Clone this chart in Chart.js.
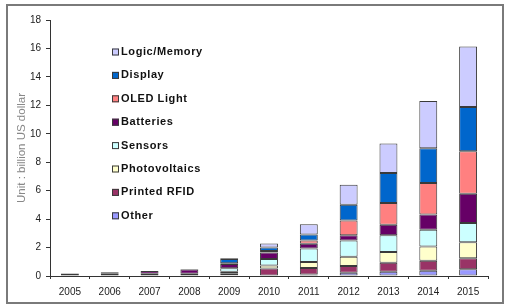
<!DOCTYPE html>
<html>
<head>
<meta charset="UTF-8">
<title>Printed electronics market</title>
<script src="https://cdn.jsdelivr.net/npm/chart.js@4/dist/chart.umd.min.js"></script>
<style>
  html, body { margin: 0; padding: 0; background: #fff; }
  #wrap { width: 507px; height: 308px; position: relative; }
</style>
</head>
<body>
<div id="wrap"><canvas id="myChart" width="507" height="308"></canvas></div>
<script type="text/javascript">
    // categories
    var years = ["2005", "2006", "2007", "2008", "2009", "2010", "2011", "2012", "2013", "2014", "2015"];

    // series values, billion US dollar
    var other         = [0,    0,    0,    0,    0.05, 0.03, 0.1,  0.23, 0.3,  0.37, 0.47];
    var printedRfid   = [0,    0,    0,    0,    0.1,  0.5,  0.47, 0.48, 0.64, 0.71, 0.78];
    var photovoltaics = [0,    0,    0,    0,    0.15, 0.2,  0.42, 0.65, 0.75, 0.99, 1.13];
    var sensors       = [0.18, 0.16, 0.15, 0.15, 0.25, 0.47, 0.94, 1.13, 1.18, 1.18, 1.34];
    var batteries     = [0,    0.1,  0.2,  0.3,  0.3,  0.45, 0.33, 0.38, 0.73, 1.08, 2.07];
    var oledLight     = [0,    0,    0,    0,    0.05, 0.1,  0.24, 1.03, 1.53, 2.21, 2.98];
    var display       = [0,    0,    0,    0.04, 0.3,  0.25, 0.42, 1.11, 2.12, 2.44, 3.11];
    var logicMemory   = [0,    0,    0,    0,    0.05, 0.28, 0.71, 1.41, 2.07, 3.32, 4.26];

    var yTicks = [0, 2, 4, 6, 8, 10, 12, 14, 16, 18];

    // bottom of the stack first
    var seriesList = [
        { label: "Other",         data: other,         color: "#9999FF" },
        { label: "Printed RFID",  data: printedRfid,   color: "#993366" },
        { label: "Photovoltaics", data: photovoltaics, color: "#FFFFCC" },
        { label: "Sensors",       data: sensors,       color: "#CCFFFF" },
        { label: "Batteries",     data: batteries,     color: "#660066" },
        { label: "OLED Light",    data: oledLight,     color: "#FF8080" },
        { label: "Display",       data: display,       color: "#0066CC" },
        { label: "Logic/Memory",  data: logicMemory,   color: "#CCCCFF" }
    ];

    var datasets = seriesList.map(function (s) {
        return {
            label: s.label,
            data: s.data,
            backgroundColor: s.color,
            borderColor: "#3a3a3a",
            borderWidth: 1,
            borderSkipped: false,
            categoryPercentage: 1.0,
            barPercentage: 0.45
        };
    });

    // outer frame of the picture
    var framePlugin = {
        id: "frame",
        beforeDraw: function (chart) {
            var ctx = chart.ctx;
            ctx.save();
            ctx.fillStyle = "#fff";
            ctx.fillRect(0, 0, chart.width, chart.height);
            ctx.strokeStyle = "#7a7a7a";
            ctx.lineWidth = 2;
            ctx.strokeRect(7, 5, 496, 298);
            ctx.restore();
        }
    };

    // legend inside the plot, one column, top of stack first
    var legendPlugin = {
        id: "innerLegend",
        afterDraw: function (chart) {
            var ctx = chart.ctx;
            var area = chart.chartArea;
            var x = area.left + 62;
            var y = area.top + 32;
            var step = 23.4;
            ctx.save();
            ctx.font = "bold 11px 'Liberation Sans', Arial, sans-serif";
            if ("letterSpacing" in ctx) ctx.letterSpacing = "0.6px";
            ctx.textBaseline = "middle";
            var ds = chart.data.datasets;
            for (var i = ds.length - 1, row = 0; i >= 0; i--, row++) {
                var yy = y + row * step;
                ctx.fillStyle = ds[i].backgroundColor;
                ctx.fillRect(x, yy - 3.5, 7, 7);
                ctx.strokeStyle = "#3a3a3a";
                ctx.lineWidth = 1;
                ctx.strokeRect(x + 0.5, yy - 3, 6, 6);
                ctx.fillStyle = "#111";
                ctx.fillText(ds[i].label, x + 9, yy);
            }
            ctx.restore();
        }
    };

    new Chart("myChart", {
        type: "bar",
        data: { labels: years, datasets: datasets },
        plugins: [framePlugin, legendPlugin],
        options: {
            responsive: false,
            animation: false,
            layout: { padding: { top: 20, right: 19, bottom: 0, left: 0 } },
            plugins: {
                legend: { display: false },
                tooltip: { enabled: false }
            },
            scales: {
                x: {
                    stacked: true,
                    grid: { display: true, drawOnChartArea: false, tickLength: 3, color: "#333", offset: true },
                    border: { color: "#333", width: 1 },
                    ticks: { color: "#222", font: { family: "'Liberation Sans', Arial", size: 10 }, padding: 7, maxRotation: 0 },
                    afterFit: function (scale) { scale.height = 32; }
                },
                y: {
                    stacked: true,
                    min: 0,
                    max: 18,
                    afterBuildTicks: function (scale) {
                        scale.ticks = yTicks.map(function (v) { return { value: v }; });
                    },
                    grid: { display: true, drawOnChartArea: false, tickLength: 4, color: "#333" },
                    border: { color: "#333", width: 1 },
                    ticks: { color: "#222", font: { family: "'Liberation Sans', Arial", size: 10 }, padding: 5 },
                    title: {
                        display: true,
                        text: "Unit : billion US dollar",
                        color: "#888",
                        font: { family: "'Liberation Sans', Arial", size: 11.5 },
                        padding: { top: 15, bottom: 0 }
                    },
                    afterFit: function (scale) { scale.width = 50; }
                }
            }
        }
    });
</script>
</body>
</html>
